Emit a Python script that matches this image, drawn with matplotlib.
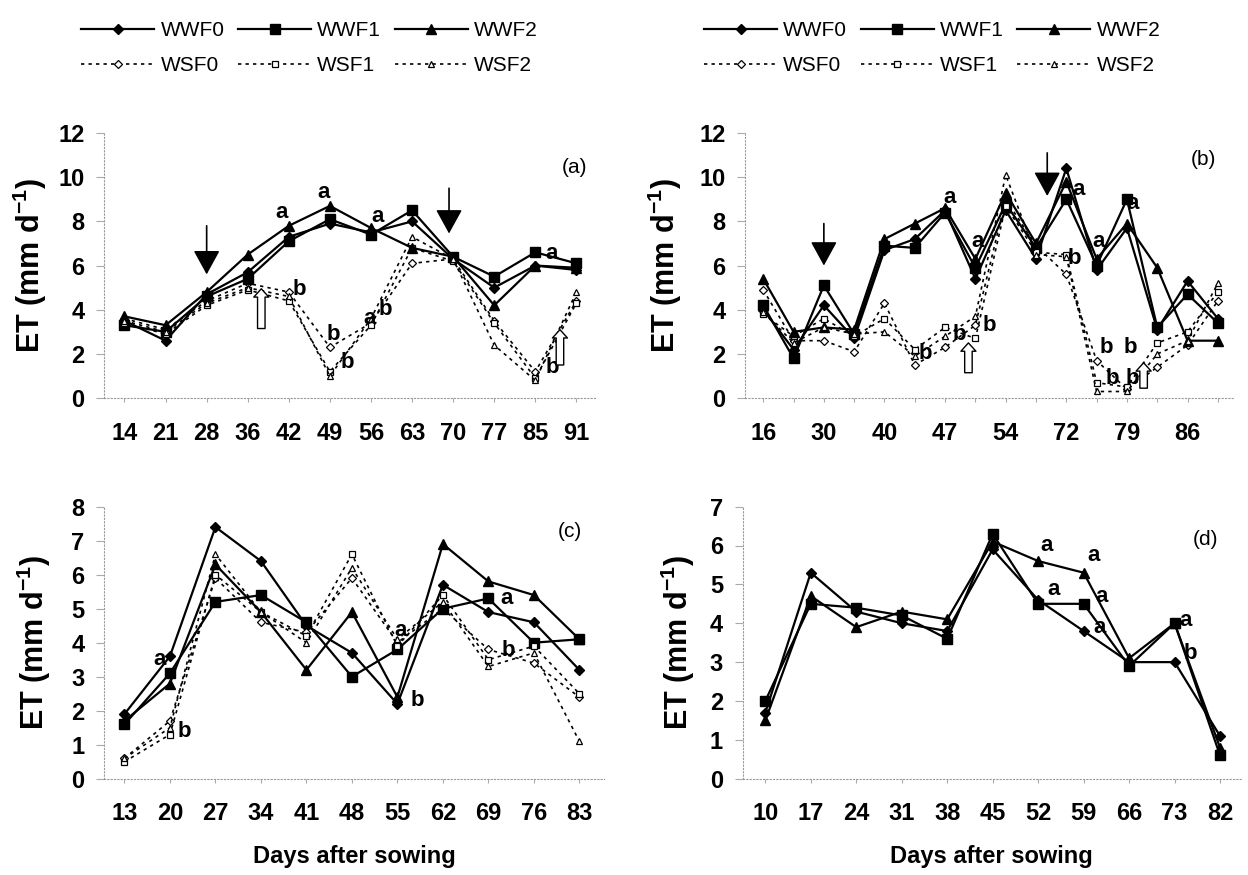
import numpy as np
import matplotlib
matplotlib.use("Agg")
import matplotlib.pyplot as plt

plt.rcParams["font.family"] = ["Liberation Sans", "DejaVu Sans"]
plt.rcParams["mathtext.fontset"] = "custom"
plt.rcParams["mathtext.rm"] = "Liberation Sans"
plt.rcParams["mathtext.bf"] = "Liberation Sans:bold"

# ---- data (ET, mm/d) ----
days_a = ["14", "21", "28", "36", "42", "49", "56", "63", "70", "77", "85", "91"]
a_wwf0 = [3.5, 2.6, 4.7, 5.7, 7.3, 7.9, 7.5, 8.0, 6.3, 5.0, 6.0, 5.8]
a_wwf1 = [3.3, 3.0, 4.6, 5.4, 7.1, 8.1, 7.4, 8.5, 6.4, 5.5, 6.6, 6.1]
a_wwf2 = [3.7, 3.3, 4.8, 6.5, 7.8, 8.7, 7.7, 6.8, 6.4, 4.2, 6.0, 5.9]
a_wsf0 = [3.6, 3.1, 4.4, 5.2, 4.8, 2.3, 3.4, 6.1, 6.3, 3.5, 1.2, 4.4]
a_wsf1 = [3.4, 2.9, 4.2, 4.9, 4.4, 1.2, 3.3, 6.8, 6.2, 3.4, 0.9, 4.3]
a_wsf2 = [3.5, 3.0, 4.3, 5.0, 4.6, 1.0, 3.6, 7.3, 6.3, 2.4, 0.8, 4.8]

days_b = ["16", "", "30", "", "40", "", "47", "", "54", "", "72", "", "79", "", "86", ""]
b_wwf0 = [4.0, 2.2, 4.2, 2.7, 6.7, 7.2, 8.5, 5.4, 8.5, 6.3, 10.4, 5.8, 7.7, 3.1, 5.3, 3.6]
b_wwf1 = [4.2, 1.8, 5.1, 2.9, 6.9, 6.8, 8.4, 5.9, 8.8, 6.8, 9.0, 6.0, 9.0, 3.2, 4.7, 3.4]
b_wwf2 = [5.4, 3.0, 3.2, 3.1, 7.2, 7.9, 8.6, 6.3, 9.3, 7.0, 9.8, 6.3, 7.9, 5.9, 2.6, 2.6]
b_wsf0 = [4.9, 2.6, 2.6, 2.1, 4.3, 1.5, 2.3, 3.3, 9.0, 6.9, 5.6, 1.7, 0.4, 1.4, 2.4, 4.4]
b_wsf1 = [3.8, 2.8, 3.6, 2.8, 3.6, 2.2, 3.2, 2.7, 8.7, 6.6, 6.5, 0.7, 0.5, 2.5, 3.0, 4.8]
b_wsf2 = [3.9, 2.5, 3.2, 2.9, 3.0, 1.9, 2.8, 3.7, 10.1, 6.5, 6.4, 0.3, 0.3, 2.0, 2.6, 5.2]

days_c = ["13", "20", "27", "34", "41", "48", "55", "62", "69", "76", "83"]
c_wwf0 = [1.9, 3.6, 7.4, 6.4, 4.5, 3.7, 2.2, 5.7, 4.9, 4.6, 3.2]
c_wwf1 = [1.6, 3.1, 5.2, 5.4, 4.6, 3.0, 3.8, 5.0, 5.3, 4.0, 4.1]
c_wwf2 = [1.7, 2.8, 6.3, 4.9, 3.2, 4.9, 2.4, 6.9, 5.8, 5.4, 4.1]
c_wsf0 = [0.6, 1.7, 5.9, 4.6, 4.3, 5.9, 4.0, 5.0, 3.8, 3.4, 2.4]
c_wsf1 = [0.5, 1.3, 6.0, 4.9, 4.2, 6.6, 3.9, 5.4, 3.5, 3.9, 2.5]
c_wsf2 = [0.6, 1.5, 6.6, 4.9, 4.0, 6.2, 4.1, 5.2, 3.3, 3.7, 1.1]

days_d = ["10", "17", "24", "31", "38", "45", "52", "59", "66", "73", "82"]
d_wwf0 = [1.7, 5.3, 4.3, 4.0, 3.8, 5.9, 4.6, 3.8, 3.0, 3.0, 1.1]
d_wwf1 = [2.0, 4.5, 4.4, 4.2, 3.6, 6.3, 4.5, 4.5, 2.9, 4.0, 0.6]
d_wwf2 = [1.5, 4.7, 3.9, 4.3, 4.1, 6.1, 5.6, 5.3, 3.1, 4.0, 0.8]

# significance letters (category index, ET, letter)
letters_a = [(3.83, 8.4, "a"), (4.84, 9.3, "a"), (6.15, 8.2, "a"), (10.4, 6.55, "a"),
             (4.26, 4.9, "b"), (5.09, 2.9, "b"), (5.43, 1.6, "b"), (5.96, 3.6, "a"),
             (6.35, 4.0, "b"), (10.42, 1.4, "b")]
letters_b = [(6.14, 9.1, "a"), (7.06, 7.1, "a"), (5.35, 2.0, "b"), (6.47, 2.9, "b"),
             (7.45, 3.3, "b"), (10.4, 9.45, "a"), (10.28, 6.3, "b"), (11.06, 7.1, "a"),
             (12.18, 8.8, "a"), (11.33, 2.3, "b"), (12.1, 2.3, "b"), (11.52, 0.9, "b"),
             (12.18, 0.9, "b")]
letters_c = [(0.78, 3.5, "a"), (1.32, 1.4, "b"), (6.08, 4.35, "a"), (6.43, 2.3, "b"),
             (8.39, 5.3, "a"), (8.44, 3.77, "b")]
letters_d = [(6.19, 6.0, "a"), (7.21, 5.75, "a"), (6.33, 4.88, "a"), (7.39, 4.7, "a"),
             (7.35, 3.9, "a"), (9.25, 4.06, "a"), (9.34, 3.23, "b")]

# irrigation arrows (category index, from, to)
black_arrows_a = [(2.0, 7.8, 5.6), (7.9, 9.5, 7.45)]
open_arrows_a = [(3.33, 3.15, 4.95), (10.6, 1.5, 3.1)]
black_arrows_b = [(2.0, 7.9, 6.0), (9.37, 11.1, 9.15)]
open_arrows_b = [(6.77, 1.15, 2.5), (12.55, 0.45, 1.6)]

WW_STYLE = dict(color="black", lw=1.6, ls="-", mfc="black", mec="black")
WS_STYLE = dict(color="black", lw=1.2, ls=(0, (2, 2.5)), mfc="white", mec="black", mew=0.9)


def plot_series(ax, ww, ws):
    x = np.arange(len(ww[0]))
    ax.plot(x, ww[0], marker="D", ms=5.5, label="WWF0", **WW_STYLE)
    if ws:
        ax.plot(x, ws[0], marker="D", ms=4, label="WSF0", **WS_STYLE)
    ax.plot(x, ww[1], marker="s", ms=6.5, label="WWF1", **WW_STYLE)
    if ws:
        ax.plot(x, ws[1], marker="s", ms=4.5, label="WSF1", **WS_STYLE)
    ax.plot(x, ww[2], marker="^", ms=7, label="WWF2", **WW_STYLE)
    if ws:
        ax.plot(x, ws[2], marker="^", ms=5, label="WSF2", **WS_STYLE)


def style_axes(ax, days, ymax, xlim, tag, tag_xy, ylab_x):
    ax.set_xlim(*xlim)
    ax.set_ylim(0, ymax)
    ax.set_xticks(np.arange(len(days)))
    ax.set_xticklabels(days)
    ax.set_yticks(np.arange(0, ymax + 1, 2 if ymax > 8 else 1))
    for lab in ax.get_xticklabels() + ax.get_yticklabels():
        lab.set_fontweight("bold")
        lab.set_fontsize(17)
    ax.tick_params(axis="x", length=3, color="#aaaaaa", pad=14)
    ax.tick_params(axis="y", length=6, color="#aaaaaa", pad=8, direction="out")
    for s in ("top", "right"):
        ax.spines[s].set_visible(False)
    for s in ("left", "bottom"):
        ax.spines[s].set_linestyle((0, (1, 2)))
        ax.spines[s].set_color("#999999")
        ax.spines[s].set_linewidth(0.8)
    ax.set_ylabel(r"ET (mm d$^{\mathbf{-1}}$)", fontsize=22, fontweight="bold", va="center")
    ax.yaxis.set_label_coords(ylab_x, 0.5)
    ax.text(tag_xy[0], tag_xy[1], tag, transform=ax.transAxes, fontsize=15,
            ha="center", va="center")


def add_letters(ax, letters):
    for x, y, t in letters:
        ax.text(x, y, t, fontsize=16, fontweight="bold", ha="center", va="center", zorder=5)


def add_arrows(ax, blacks, opens):
    for x, y0, y1 in blacks:
        ax.annotate("", xy=(x, y1), xytext=(x, y0),
                    arrowprops=dict(arrowstyle="-|>,head_length=1.0,head_width=0.55",
                                    color="black", lw=1.2, mutation_scale=15,
                                    shrinkA=0, shrinkB=0), zorder=6)
    for x, y0, y1 in opens:
        ax.annotate("", xy=(x, y1), xytext=(x, y0),
                    arrowprops=dict(arrowstyle="simple,head_length=0.5,head_width=0.9,tail_width=0.45",
                                    fc="white", ec="black", lw=1.0, mutation_scale=12,
                                    shrinkA=0, shrinkB=0), zorder=6)


fig = plt.figure(figsize=(12.48, 8.75), dpi=100)
ax_a = fig.add_axes([0.0833, 0.545, 0.395, 0.303])
ax_b = fig.add_axes([0.597, 0.545, 0.391, 0.303])
ax_c = fig.add_axes([0.0833, 0.110, 0.401, 0.311])
ax_d = fig.add_axes([0.595, 0.110, 0.399, 0.311])

plot_series(ax_a, [a_wwf0, a_wwf1, a_wwf2], [a_wsf0, a_wsf1, a_wsf2])
plot_series(ax_b, [b_wwf0, b_wwf1, b_wwf2], [b_wsf0, b_wsf1, b_wsf2])
plot_series(ax_c, [c_wwf0, c_wwf1, c_wwf2], [c_wsf0, c_wsf1, c_wsf2])
plot_series(ax_d, [d_wwf0, d_wwf1, d_wwf2], None)

style_axes(ax_a, days_a, 12, (-0.5, 11.5), "(a)", (0.955, 0.87), -0.15)
style_axes(ax_b, days_b, 12, (-0.6, 15.5), "(b)", (0.94, 0.90), -0.165)
style_axes(ax_c, days_c, 8, (-0.45, 10.55), "(c)", (0.93, 0.91), -0.14)
style_axes(ax_d, days_d, 7, (-0.5, 10.45), "(d)", (0.93, 0.88), -0.13)

add_letters(ax_a, letters_a)
add_letters(ax_b, letters_b)
add_letters(ax_c, letters_c)
add_letters(ax_d, letters_d)

add_arrows(ax_a, black_arrows_a, open_arrows_a)
add_arrows(ax_b, black_arrows_b, open_arrows_b)

for ax in (ax_c, ax_d):
    ax.set_xlabel("Days after sowing", fontsize=17, fontweight="bold", va="center")
    ax.xaxis.set_label_coords(0.5, -0.287)

handles, labels = ax_a.get_legend_handles_labels()
for cx in (0.248, 0.747):
    fig.legend(handles, labels, loc="center", bbox_to_anchor=(cx, 1 - 48 / 875), ncol=3,
               frameon=False, handlelength=3.5, handletextpad=0.3, columnspacing=0.65,
               labelspacing=0.75, fontsize=15)

fig.savefig("out.png", dpi=100)
